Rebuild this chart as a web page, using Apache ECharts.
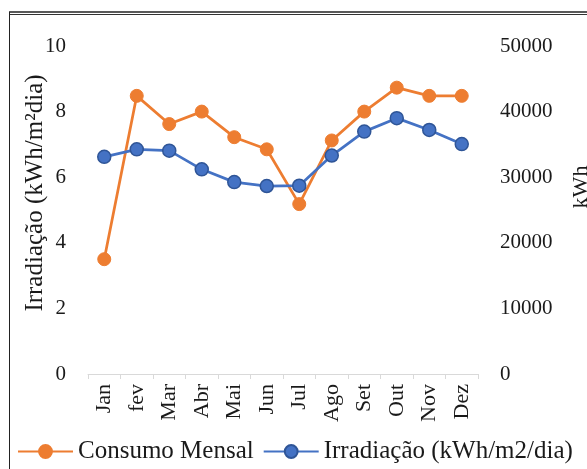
<!DOCTYPE html>
<html>
<head>
<meta charset="utf-8">
<script src="https://cdn.jsdelivr.net/npm/echarts@6/dist/echarts.min.js"></script>
<style>
  html, body { margin: 0; padding: 0; background: #fff; }
  #chart { width: 587px; height: 469px; }
</style>
</head>
<body>
<div id="chart"></div>
<script>
const months = ['Jan', 'fev', 'Mar', 'Abr', 'Mai', 'Jun', 'Jul', 'Ago', 'Set', 'Out', 'Nov', 'Dez'];
const consumoMensal = [17500, 42400, 38100, 40000, 36100, 34250, 25900, 35600, 40000, 43650, 42400, 42400];
const irradiacao = [6.62, 6.85, 6.81, 6.24, 5.85, 5.73, 5.74, 6.66, 7.39, 7.80, 7.44, 7.01];
const leftTicks = { min: 0, max: 10, interval: 2 };
const rightTicks = { min: 0, max: 50000, interval: 10000 };
const seriesNames = ['Consumo Mensal', 'Irradiação (kWh/m2/dia)'];
const leftTitle = 'Irradiação (kWh/m²dia)';
const rightTitle = 'kWh';

const FONT = '"Liberation Serif", "Times New Roman", serif';
const TXT = '#1a1a1a';
const chart = echarts.init(document.getElementById('chart'));
chart.setOption({
  animation: false,
  textStyle: { fontFamily: FONT },
  grid: { left: 88, right: 109, top: 46, bottom: 95 },
  legend: {
    data: seriesNames,
    left: 17,
    top: 439,
    padding: 0,
    itemWidth: 55,
    itemHeight: 16,
    itemGap: 9,
    textStyle: { fontFamily: FONT, fontSize: 25, color: TXT }
  },
  xAxis: {
    type: 'category',
    data: months,
    axisLine: { lineStyle: { color: '#d9d9d9', width: 1 } },
    axisTick: { show: true, length: 5, lineStyle: { color: '#d9d9d9' } },
    axisLabel: { rotate: 90, margin: 10, fontSize: 22, color: TXT, fontFamily: FONT }
  },
  yAxis: [
    {
      type: 'value', position: 'left',
      min: leftTicks.min, max: leftTicks.max, interval: leftTicks.interval,
      axisLine: { show: false }, axisTick: { show: false },
      splitLine: { show: false },
      axisLabel: { margin: 22, fontSize: 21, color: TXT, fontFamily: FONT }
    },
    {
      type: 'value', position: 'right',
      min: rightTicks.min, max: rightTicks.max, interval: rightTicks.interval,
      axisLine: { show: false }, axisTick: { show: false },
      splitLine: { show: false },
      axisLabel: { margin: 22, fontSize: 21, color: TXT, fontFamily: FONT, formatter: v => String(v) }
    }
  ],
  series: [
    {
      name: seriesNames[0], type: 'line', yAxisIndex: 1,
      data: consumoMensal,
      symbol: 'circle', symbolSize: 13,
      lineStyle: { color: '#ED7D31', width: 2.75 },
      itemStyle: { color: '#ED7D31', borderColor: '#ED7D31', borderWidth: 1 }
    },
    {
      name: seriesNames[1], type: 'line', yAxisIndex: 0,
      data: irradiacao,
      symbol: 'circle', symbolSize: 13,
      lineStyle: { color: '#4472C4', width: 2.75 },
      itemStyle: { color: '#4472C4', borderColor: '#2F5597', borderWidth: 1.5 }
    }
  ],
  graphic: [
    { type: 'text', x: 35, y: 193, rotation: Math.PI / 2,
      style: { text: leftTitle, font: '25px ' + FONT, fill: TXT, textAlign: 'center', textVerticalAlign: 'middle' } },
    { type: 'text', x: 581, y: 187, rotation: Math.PI / 2,
      style: { text: rightTitle, font: '22px ' + FONT, fill: TXT, textAlign: 'center', textVerticalAlign: 'middle' } },
    { type: 'line', shape: { x1: 9, y1: 12, x2: 587, y2: 12 }, style: { stroke: '#222', lineWidth: 1.5 } },
    { type: 'line', shape: { x1: 9, y1: 14.5, x2: 587, y2: 14.5 }, style: { stroke: '#333', lineWidth: 1 } },
    { type: 'line', shape: { x1: 9.5, y1: 12, x2: 9.5, y2: 469 }, style: { stroke: '#222', lineWidth: 1 } }
  ]
});
</script>
</body>
</html>
